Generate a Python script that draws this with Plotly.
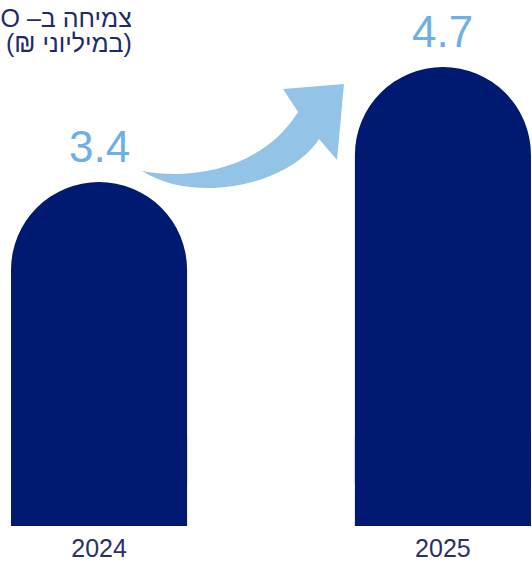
import plotly.graph_objects as go

# Data
YEARS = ["2024", "2025"]
VALUES = [3.4, 4.7]
VALUE_LABELS = ["3.4", "4.7"]
TITLE_LINES = ["צמיחה ב– FFO", "(במיליוני ₪)"]

# Axis scale: columns stand on a plinth that starts slightly below zero
Y_FLOOR = -0.489
Y_TOP = 5.457
BAR_WIDTH = 0.512

W, H = 532, 564
MARGIN_B = 38
PLOT_H = H - MARGIN_B

NAVY = "#001a72"
LABEL_BLUE = "#6eb0e5"
ARROW_BLUE = "#93c4e8"
TEXT_NAVY = "#1f2a6b"
FONT = "Liberation Sans, Arial, sans-serif"

fig = go.Figure()
# Square plinth under each column (no rounding)
fig.add_trace(go.Bar(
    x=YEARS,
    y=[Y_FLOOR - 0.5] * len(YEARS),
    base=0.5,
    width=BAR_WIDTH,
    marker=dict(color=NAVY, line=dict(width=0), cornerradius=0),
    hoverinfo="skip",
))
# Value columns with a semicircular top
fig.add_trace(go.Bar(
    x=YEARS,
    y=VALUES,
    width=BAR_WIDTH,
    marker=dict(color=NAVY, line=dict(width=0), cornerradius="50%"),
    hoverinfo="skip",
))

# Value labels above each column
for i, (v, lab) in enumerate(zip(VALUES, VALUE_LABELS)):
    fig.add_annotation(
        x=i, y=v, xref="x", yref="y", text=lab, showarrow=False,
        yanchor="bottom", xanchor="center", yshift=9,
        font=dict(family=FONT, size=44, color=LABEL_BLUE),
    )


def px(x, y):
    """Convert a page pixel position to paper coordinates."""
    return f"{x / W:.4f},{(PLOT_H - y) / PLOT_H:.4f}"


# Curved growth arrow between the two columns
arrow_path = (
    f"M{px(142, 171)} "
    f"C{px(190, 180)} {px(262, 170)} {px(298, 112)} "
    f"L{px(283, 89)} L{px(344, 84)} L{px(337, 160)} L{px(319, 139)} "
    f"C{px(290, 185)} {px(195, 205)} {px(142, 171)} Z"
)
fig.add_shape(type="path", path=arrow_path, xref="paper", yref="paper",
              fillcolor=ARROW_BLUE, line=dict(width=0), layer="above")

# Right-to-left title lines in the top-left corner
RLE, PDF = "\u202b", "\u202c"
for i, line in enumerate(TITLE_LINES):
    fig.add_annotation(
        x=134 / W, y=(PLOT_H - (18 + 25 * i)) / PLOT_H,
        xref="paper", yref="paper", xanchor="right", yanchor="middle",
        text=RLE + line + PDF, showarrow=False,
        font=dict(family=FONT, size=25, color=TEXT_NAVY),
    )

fig.update_layout(
    width=W, height=H,
    margin=dict(l=0, r=0, t=0, b=MARGIN_B),
    paper_bgcolor="white", plot_bgcolor="white",
    showlegend=False,
    barmode="overlay",
    xaxis=dict(type="category", range=[-0.288, 1.259], showgrid=False, zeroline=False,
               showline=False, ticks="", ticklabelstandoff=5,
               tickfont=dict(family=FONT, size=25, color="#2b2f68")),
    yaxis=dict(range=[Y_FLOOR, Y_TOP], visible=False, showgrid=False, zeroline=False),
)

fig.write_html("out.html")
